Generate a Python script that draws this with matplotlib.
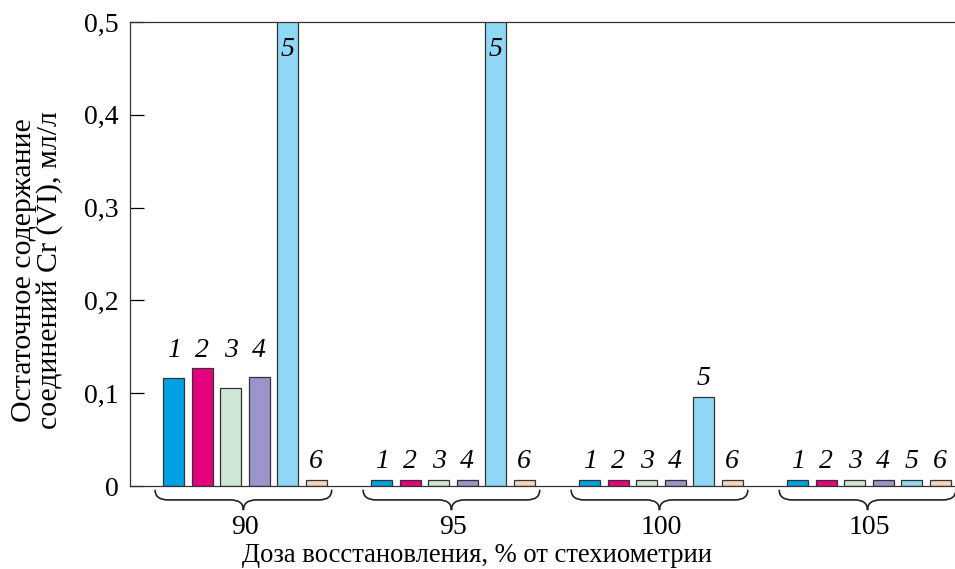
import matplotlib
matplotlib.use("Agg")
import matplotlib.pyplot as plt
import numpy as np
from matplotlib.path import Path
from matplotlib.patches import PathPatch
from matplotlib.transforms import blended_transform_factory

plt.rcParams["font.family"] = ["Liberation Serif", "DejaVu Serif"]

groups = ["90", "95", "100", "105"]
series = ["1", "2", "3", "4", "5", "6"]
# residual Cr(VI), one row per dose group, columns = series 1..6
values = np.array([
    [0.116, 0.127, 0.106, 0.117, 0.60, 0.007],
    [0.007, 0.007, 0.007, 0.007, 0.60, 0.007],
    [0.007, 0.007, 0.007, 0.007, 0.096, 0.007],
    [0.007, 0.007, 0.007, 0.007, 0.007, 0.007],
])
colors = ["#00a0e3", "#e5007e", "#cde6d6", "#9c95c9", "#8fd8f6", "#fbd2bd"]
yticks = [0, 0.1, 0.2, 0.3, 0.4, 0.5]
ytick_labels = ["0", "0,1", "0,2", "0,3", "0,4", "0,5"]
YMAX = 0.5
GROUP_STEP = 7.3
BAR_W = 0.74
FS = 20


def brace(ax, x0, x1, y_top=-0.008, y_mid=-0.030, y_bot=-0.052, r=0.45):
    xc = (x0 + x1) / 2
    verts = [
        (x0, y_top), (x0, y_mid), (x0 + r, y_mid),
        (xc - r, y_mid),
        (xc, y_mid), (xc, y_bot),
        (xc, y_mid), (xc + r, y_mid),
        (x1 - r, y_mid),
        (x1, y_mid), (x1, y_top),
    ]
    codes = [Path.MOVETO, Path.CURVE3, Path.CURVE3, Path.LINETO,
             Path.CURVE3, Path.CURVE3, Path.CURVE3, Path.CURVE3,
             Path.LINETO, Path.CURVE3, Path.CURVE3]
    tr = blended_transform_factory(ax.transData, ax.transAxes)
    ax.add_patch(PathPatch(Path(verts, codes), fill=False, lw=1.2,
                           color="#222222", transform=tr, clip_on=False))


fig = plt.figure(figsize=(9.55, 5.69), dpi=100)
ax = fig.add_axes([130 / 955, 1 - 486 / 569, 825 / 955, 464 / 569])

n = len(series)
for g, row in enumerate(values):
    xs = g * GROUP_STEP + np.arange(n)
    ax.bar(xs, row, width=BAR_W, color=colors, edgecolor="#333333", lw=0.9,
           zorder=2)
    for i, v in enumerate(row):
        if v > YMAX:
            ax.text(xs[i], YMAX - 0.016, series[i], ha="center", va="top",
                    style="italic", fontsize=FS)
        else:
            near = [w for w in row if w <= YMAX and abs(w - v) < 0.03]
            ax.text(xs[i], max(near) + 0.006, series[i], ha="center",
                    va="bottom", style="italic", fontsize=FS)
    brace(ax, xs[0] - 0.65, xs[-1] + 0.55)

centers = [g * GROUP_STEP + (n - 1) / 2 for g in range(len(groups))]
ax.set_xticks(centers, groups)
ax.tick_params(axis="x", length=0, pad=21, labelsize=FS)
fig.text(477 / 955, 1 - 556 / 569, "Доза восстановления, % от стехиометрии",
         ha="center", va="center", fontsize=19.2)

ax.set_ylim(0, YMAX)
ax.set_xlim(-1.53, 27.42)
ax.set_yticks(yticks, ytick_labels)
ax.tick_params(axis="y", direction="in", length=10, width=0.9,
               labelsize=FS, pad=8)
fig.text(37 / 955, 1 - 270 / 569,
         "Остаточное содержание\nсоединений Cr (VI), мл/л",
         rotation=90, ha="center", va="center", fontsize=21.5,
         linespacing=0.95)

ax.spines["right"].set_visible(False)
for s in ("left", "top", "bottom"):
    ax.spines[s].set_linewidth(0.9)
    ax.spines[s].set_color("#333333")

fig.savefig("out.png", dpi=100)
